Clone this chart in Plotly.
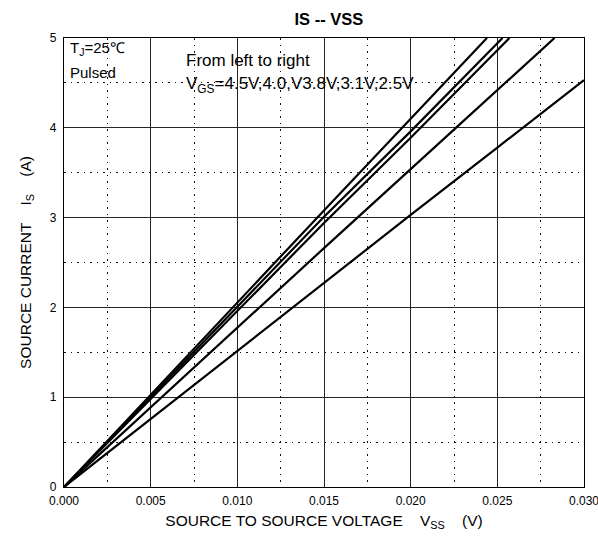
import plotly.graph_objects as go

# Source current vs source-to-source voltage, one curve per gate voltage
vgs_labels = ["4.5V", "4.0V", "3.8V", "3.1V", "2.5V"]

vss_45 = [0.0, 0.005, 0.010, 0.015, 0.020, 0.0244]
is_45 = [0.0, 1.03, 2.06, 3.08, 4.10, 5.0]

vss_40 = [0.0, 0.005, 0.010, 0.015, 0.020, 0.0253]
is_40 = [0.0, 1.00, 2.00, 3.01, 3.96, 5.0]

vss_38 = [0.0, 0.005, 0.010, 0.015, 0.020, 0.0257]
is_38 = [0.0, 0.98, 1.95, 2.94, 3.89, 5.0]

vss_31 = [0.0, 0.005, 0.010, 0.015, 0.020, 0.025, 0.0283]
is_31 = [0.0, 0.89, 1.78, 2.66, 3.54, 4.42, 5.0]

vss_25 = [0.0, 0.005, 0.010, 0.015, 0.020, 0.025, 0.030]
is_25 = [0.0, 0.76, 1.52, 2.27, 3.03, 3.78, 4.53]

x_ticks = [0.0, 0.005, 0.010, 0.015, 0.020, 0.025, 0.030]
x_tick_text = ["0.000", "0.005", "0.010", "0.015", "0.020", "0.025", "0.030"]
y_ticks = [0, 1, 2, 3, 4, 5]

series = [
    (vss_45, is_45),
    (vss_40, is_40),
    (vss_38, is_38),
    (vss_31, is_31),
    (vss_25, is_25),
]

FONT = "Liberation Sans, Arial, sans-serif"
DOTS = "1.5px,5px"

fig = go.Figure()
for name, (xs, ys) in zip(vgs_labels, series):
    fig.add_trace(go.Scatter(
        x=xs, y=ys, mode="lines", name="VGS=" + name,
        line=dict(color="black", width=2.2),
        showlegend=False,
    ))

axis_common = dict(
    showline=True, linecolor="black", linewidth=1.3, mirror=True,
    showgrid=True, gridcolor="#262626", gridwidth=1.4,
    zeroline=False, ticks="", automargin=False,
    ticklabeloverflow="allow",
    tickfont=dict(family=FONT, size=12, color="black"),
)

fig.update_xaxes(
    range=[0, 0.030], tickvals=x_ticks, ticktext=x_tick_text,
    ticklabelstandoff=2,
    minor=dict(dtick=0.0025, showgrid=True, griddash=DOTS,
               gridcolor="#111", gridwidth=1.2),
    title=dict(text="SOURCE TO SOURCE VOLTAGE    V<sub>SS</sub>    (V)",
               font=dict(family=FONT, size=15.5, color="black"), standoff=8),
    **axis_common,
)
fig.update_yaxes(
    range=[0, 5], tickvals=y_ticks,
    ticklabelstandoff=4,
    minor=dict(dtick=0.5, showgrid=True, griddash=DOTS,
               gridcolor="#111", gridwidth=1.2),
    title=dict(text="SOURCE CURRENT    I<sub>S</sub>    (A)",
               font=dict(family=FONT, size=15.5, color="black"), standoff=14),
    **axis_common,
)

fig.add_annotation(x=0.00023, y=4.88, xref="x", yref="y", xanchor="left", yanchor="middle",
                   text="T<sub>J</sub>=25℃", showarrow=False,
                   font=dict(family=FONT, size=15, color="black"))
fig.add_annotation(x=0.00023, y=4.62, xref="x", yref="y", xanchor="left", yanchor="middle",
                   text="Pulsed", showarrow=False,
                   font=dict(family=FONT, size=15, color="black"))
fig.add_annotation(x=0.0069, y=4.755, xref="x", yref="y", xanchor="left", yanchor="middle",
                   text="From left to right", showarrow=False,
                   font=dict(family=FONT, size=17, color="black"))
fig.add_annotation(x=0.0069, y=4.48, xref="x", yref="y", xanchor="left", yanchor="middle",
                   text="V<sub>GS</sub>=4.5V,4.0,V3.8V,3.1V,2.5V", showarrow=False,
                   font=dict(family=FONT, size=17, color="black"))

fig.update_layout(
    width=598, height=543,
    margin=dict(l=64, r=14, t=38, b=56),
    paper_bgcolor="white", plot_bgcolor="white",
    title=dict(text="<b>IS -- VSS</b>", x=0.55, xanchor="center", y=0.965, yanchor="middle",
               font=dict(family=FONT, size=16.5, color="black")),
)

fig.write_html("out.html")
